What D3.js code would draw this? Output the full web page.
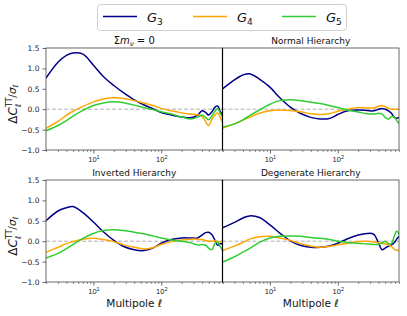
<!DOCTYPE html>
<html>
<head>
<meta charset="utf-8">
<script src="https://cdn.jsdelivr.net/npm/d3@7"></script>
<style>
  body { margin: 0; background: #fff; }
  svg { font-family: "DejaVu Sans", sans-serif; }
</style>
</head>
<body>
<div id="chart"></div>
<script>
// multipole grid shared by all curves
var ell = [2, 3, 4, 5, 7, 10, 14, 20, 28, 40, 55, 75, 100, 140, 200, 270, 340, 400, 450, 500, 560, 620, 680, 740, 800];

// sum m_nu = 0
var zeroG3 = [0.76, 1.15, 1.32, 1.38, 1.35, 1.08, 0.80, 0.58, 0.40, 0.23, 0.11, 0.01, -0.08, -0.14, -0.19, -0.21, -0.15, -0.04, -0.08, -0.14, -0.06, 0.05, 0.08, -0.06, -0.14];
var zeroG4 = [-0.47, -0.30, -0.15, -0.05, 0.07, 0.18, 0.25, 0.28, 0.26, 0.21, 0.15, 0.09, 0.02, -0.04, -0.09, -0.12, -0.14, -0.18, -0.30, -0.40, -0.24, -0.14, -0.09, -0.20, -0.31];
var zeroG5 = [-0.53, -0.40, -0.28, -0.17, -0.03, 0.09, 0.15, 0.18, 0.16, 0.10, 0.04, -0.01, -0.06, -0.12, -0.19, -0.24, -0.20, -0.14, -0.20, -0.26, -0.16, -0.05, 0.02, -0.10, -0.18];

// normal hierarchy
var normalG3 = [0.50, 0.72, 0.84, 0.87, 0.74, 0.54, 0.28, 0.05, -0.10, -0.20, -0.24, -0.23, -0.13, -0.04, -0.02, -0.03, -0.04, 0.0, 0.02, 0.0, -0.04, -0.10, -0.20, -0.22, -0.20];
var normalG4 = [-0.47, -0.36, -0.27, -0.20, -0.10, -0.04, -0.02, -0.03, -0.06, -0.11, -0.13, -0.11, -0.05, 0.0, 0.04, 0.03, 0.03, 0.07, 0.09, 0.06, 0.02, 0.0, 0.0, 0.0, 0.0];
var normalG5 = [-0.44, -0.36, -0.26, -0.16, -0.02, 0.12, 0.21, 0.23, 0.21, 0.17, 0.14, 0.09, 0.04, -0.02, -0.07, -0.11, -0.12, -0.10, -0.12, -0.20, -0.24, -0.18, -0.19, -0.28, -0.35];

// inverted hierarchy
var invertedG3 = [0.50, 0.74, 0.82, 0.85, 0.70, 0.47, 0.23, 0.02, -0.13, -0.21, -0.23, -0.17, -0.05, 0.04, 0.08, 0.08, 0.08, 0.15, 0.21, 0.22, 0.16, 0.02, -0.10, -0.06, -0.07];
var invertedG4 = [-0.27, -0.15, -0.06, -0.01, 0.05, 0.07, 0.04, -0.01, -0.09, -0.15, -0.19, -0.16, -0.08, -0.01, 0.03, 0.05, 0.05, 0.04, 0.02, 0.0, 0.0, 0.01, 0.0, -0.02, 0.0];
var invertedG5 = [-0.41, -0.30, -0.18, -0.08, 0.07, 0.19, 0.26, 0.28, 0.26, 0.22, 0.18, 0.13, 0.08, 0.03, 0.0, -0.04, -0.09, -0.08, -0.10, -0.17, -0.21, -0.05, -0.02, -0.13, -0.22];

// degenerate hierarchy
var degenerateG3 = [0.33, 0.46, 0.57, 0.62, 0.58, 0.40, 0.20, 0.01, -0.10, -0.15, -0.15, -0.12, -0.05, 0.06, 0.15, 0.19, 0.17, -0.05, -0.21, -0.17, -0.12, -0.09, -0.04, 0.05, 0.12];
var degenerateG4 = [-0.23, -0.12, -0.03, 0.05, 0.11, 0.12, 0.08, 0.02, -0.06, -0.12, -0.15, -0.13, -0.09, -0.05, -0.01, 0.0, -0.02, -0.04, -0.05, -0.07, -0.09, -0.13, -0.20, -0.22, -0.23];
var degenerateG5 = [-0.51, -0.38, -0.27, -0.18, -0.03, 0.08, 0.12, 0.13, 0.12, 0.09, 0.07, 0.04, 0.0, -0.03, -0.05, -0.07, -0.08, -0.08, -0.04, 0.0, -0.06, -0.06, 0.12, 0.25, 0.16];

var seriesSubs = ["3", "4", "5"];
var seriesColors = ["#00008b", "#ffa500", "#32cd32"];
var panelTitles = ["Σm_ν = 0", "Normal Hierarchy", "Inverted Hierarchy", "Degenerate Hierarchy"];
var yTicks = [-1.0, -0.5, 0.0, 0.5, 1.0, 1.5];
var xMajor = [10, 100];
var xMinor = [2, 3, 4, 5, 6, 7, 8, 9, 20, 30, 40, 50, 60, 70, 80, 90, 200, 300, 400, 500, 600, 700, 800];

var panels = [
    { title: panelTitles[0], col: 0, row: 0, series: [zeroG3, zeroG4, zeroG5] },
    { title: panelTitles[1], col: 1, row: 0, series: [normalG3, normalG4, normalG5] },
    { title: panelTitles[2], col: 0, row: 1, series: [invertedG3, invertedG4, invertedG5] },
    { title: panelTitles[3], col: 1, row: 1, series: [degenerateG3, degenerateG4, degenerateG5] }
];

var W = 407, H = 316;
var colX = [46, 222.5], panelW = 176.5;
var rowY = [48, 180], panelH = 102;

var svg = d3.select('#chart').append('svg')
    .attr('width', W)
    .attr('height', H);

panels.forEach(function(p, pi) {
    var x0 = colX[p.col], y0 = rowY[p.row];
    var x = d3.scaleLog().domain([2, 800]).range([x0, x0 + panelW]);
    var y = d3.scaleLinear().domain([-1, 1.5]).range([y0 + panelH, y0]);

    var g = svg.append('g');

    g.append('clipPath').attr('id', 'clip' + pi)
      .append('rect')
        .attr('x', x0).attr('y', y0)
        .attr('width', panelW).attr('height', panelH);

    // zero line
    g.append('line')
        .attr('x1', x0).attr('x2', x0 + panelW)
        .attr('y1', y(0)).attr('y2', y(0))
        .attr('stroke', '#b0b0b0')
        .attr('stroke-width', 1)
        .attr('stroke-dasharray', '4,2');

    var line = d3.line()
        .x(function(d) { return x(d[0]); })
        .y(function(d) { return y(d[1]); })
        .curve(d3.curveCatmullRom.alpha(0.5));

    p.series.forEach(function(vals, si) {
        g.append('path')
            .datum(ell.map(function(l, i) { return [l, vals[i]]; }))
            .attr('clip-path', 'url(#clip' + pi + ')')
            .attr('fill', 'none')
            .attr('stroke', seriesColors[si])
            .attr('stroke-width', 1.5)
            .attr('d', line);
    });

    // frame
    g.append('rect')
        .attr('x', x0).attr('y', y0)
        .attr('width', panelW).attr('height', panelH)
        .attr('fill', 'none')
        .attr('stroke', '#444')
        .attr('stroke-width', 0.8);

    // x axis: minor then major ticks
    var minorAxis = d3.axisBottom(x).tickValues(xMinor).tickSize(2).tickFormat('');
    g.append('g')
        .attr('transform', 'translate(0,' + (y0 + panelH) + ')')
        .call(minorAxis)
        .call(function(a) { a.select('.domain').remove(); })
        .selectAll('line').attr('stroke', '#444').attr('stroke-width', 0.6);

    var majorAxis = d3.axisBottom(x).tickValues(xMajor).tickSize(3.5).tickFormat('');
    var mx = g.append('g')
        .attr('transform', 'translate(0,' + (y0 + panelH) + ')')
        .call(majorAxis)
        .call(function(a) { a.select('.domain').remove(); });
    mx.selectAll('line').attr('stroke', '#444').attr('stroke-width', 0.8);
    mx.selectAll('.tick').each(function(d) {
        var t = d3.select(this).append('text')
            .attr('y', 11.5)
            .attr('fill', '#222')
            .attr('font-size', 7.5)
            .attr('text-anchor', 'middle');
        t.append('tspan').text('10');
        t.append('tspan').attr('dy', -3).attr('font-size', 5.5).text(Math.round(Math.log10(d)));
    });

    // y axis on left column only
    if (p.col == 0) {
        var ya = g.append('g')
            .attr('transform', 'translate(' + x0 + ',0)')
            .call(d3.axisLeft(y).tickValues(yTicks).tickSize(3.5).tickFormat(d3.format('.1f')));
        ya.select('.domain').remove();
        ya.selectAll('line').attr('stroke', '#444').attr('stroke-width', 0.8);
        ya.selectAll('text')
            .attr('font-size', 7.5)
            .attr('fill', '#222')
            .attr('font-family', '"DejaVu Sans", sans-serif');
    }

    // title
    var tt = g.append('text')
        .attr('x', x0 + panelW / 2)
        .attr('y', y0 - 4)
        .attr('text-anchor', 'middle')
        .attr('font-size', 9)
        .attr('fill', '#111');
    if (pi == 0) {
        tt.attr('font-size', 10);
        tt.append('tspan').text('Σ');
        tt.append('tspan').attr('font-style', 'italic').text('m');
        tt.append('tspan').attr('font-style', 'italic').attr('font-size', 7).attr('dy', 2).text('ν');
        tt.append('tspan').attr('dy', -2).text(' = 0');
    } else {
        tt.text(p.title);
    }

    // x label for bottom row
    if (p.row == 1) {
        var xl = g.append('text')
            .attr('x', x0 + panelW / 2)
            .attr('y', 307)
            .attr('text-anchor', 'middle')
            .attr('font-size', 10.5)
            .attr('fill', '#111');
        xl.append('tspan').text('Multipole ');
        xl.append('tspan').attr('font-style', 'italic').text('ℓ');
    }

    // y label for left column
    if (p.col == 0) {
        var cy = y0 + panelH / 2 + 5;
        var yl = g.append('text')
            .attr('transform', 'translate(17,' + cy + ') rotate(-90)')
            .attr('text-anchor', 'middle')
            .attr('font-size', 12)
            .attr('fill', '#111');
        yl.append('tspan').text('Δ');
        yl.append('tspan').attr('font-style', 'italic').text('C');
        yl.append('tspan').attr('font-size', 8).attr('dy', -5).text('TT');
        yl.append('tspan').attr('font-size', 8).attr('font-style', 'italic').attr('dx', -9.5).attr('dy', 8.5).text('ℓ');
        yl.append('tspan').attr('font-size', 10.5).attr('dx', 6).attr('dy', -5).text('/');
        yl.append('tspan').attr('font-size', 10.5).attr('font-style', 'italic').text('σ');
        yl.append('tspan').attr('font-size', 7.5).attr('font-style', 'italic').attr('dy', 2.5).text('ℓ');
    }
});

// divider between the two columns
rowY.forEach(function(ry) {
    svg.append('line')
        .attr('x1', colX[1]).attr('x2', colX[1])
        .attr('y1', ry).attr('y2', ry + panelH)
        .attr('stroke', '#000')
        .attr('stroke-width', 1.2);
});

// legend
var legend = svg.append('g');
legend.append('rect')
    .attr('x', 97.5).attr('y', 4.5)
    .attr('width', 249).attr('height', 26)
    .attr('rx', 3)
    .attr('fill', '#fff')
    .attr('stroke', '#d0d0d0')
    .attr('stroke-width', 1);

var legX = [103, 193, 282];
seriesSubs.forEach(function(s, i) {
    legend.append('line')
        .attr('x1', legX[i]).attr('x2', legX[i] + 34)
        .attr('y1', 16.5).attr('y2', 16.5)
        .attr('stroke', seriesColors[i])
        .attr('stroke-width', 1.5);
    var t = legend.append('text')
        .attr('x', legX[i] + 44)
        .attr('y', 22)
        .attr('font-size', 13)
        .attr('fill', '#111');
    t.append('tspan').attr('font-style', 'italic').text('G');
    t.append('tspan').attr('font-size', 9).attr('dy', 2.5).text(s);
});
</script>
</body>
</html>
